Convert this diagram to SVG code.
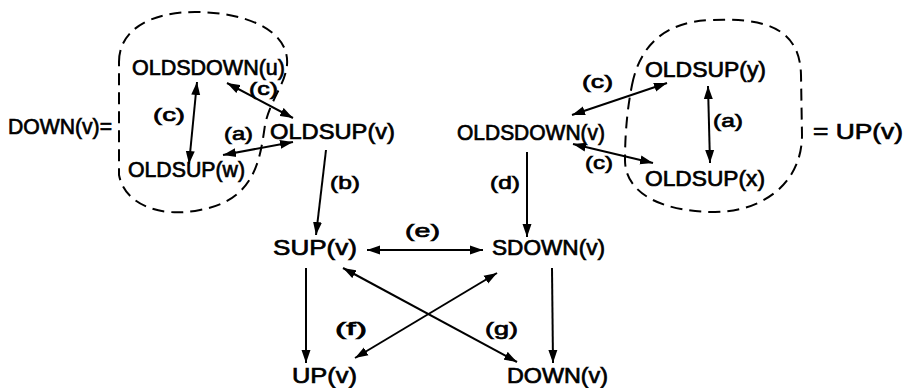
<svg xmlns="http://www.w3.org/2000/svg" width="907" height="388" viewBox="0 0 907 388">
<style>
text{font-family:"Liberation Sans",Arial,sans-serif;font-size:22px;fill:#000;stroke:#000;stroke-width:0.7}
text.l{font-size:19px}
.c{fill:none;stroke:#000;stroke-width:2;stroke-dasharray:12 7}
.e{fill:none;stroke:#000;stroke-width:2}
.b{marker-start:url(#ah);marker-end:url(#ah)}
.s{marker-end:url(#ah)}
</style>
<defs>
<marker id="ah" markerUnits="userSpaceOnUse" markerWidth="14" markerHeight="10" refX="13" refY="5" orient="auto-start-reverse">
<path d="M0,0.5 L13,5 L0,9.5 Z" fill="#000"/>
</marker>
</defs>
<rect width="907" height="388" fill="#fff"/>
<g id="clouds">
<path class="c" d="M 119 62 C 119 30, 150 12, 195 12 C 245 12, 290 30, 287 65 C 285 85, 270 100, 265 125 C 260 160, 255 200, 200 210 C 160 218, 125 205, 119 175 Z"/>
<path class="c" d="M 632 85 C 640 45, 665 22, 710 20 C 760 18, 800 25, 801 75 L 802 135 C 802 185, 760 212, 715 212 C 665 212, 625 195, 625 160 C 625 130, 628 105, 632 85 Z"/>
</g>
<g id="connectors">
<line class="e b" x1="197" y1="82" x2="189" y2="164"/>
<line class="e b" x1="227" y1="83" x2="293" y2="118"/>
<line class="e b" x1="223" y1="155" x2="293" y2="142"/>
<line class="e s" x1="326" y1="150" x2="316" y2="235"/>
<line class="e s" x1="527" y1="152" x2="527" y2="237"/>
<line class="e b" x1="572" y1="115" x2="667" y2="83"/>
<line class="e b" x1="573" y1="144" x2="653" y2="163"/>
<line class="e b" x1="708" y1="86" x2="710" y2="163"/>
<line class="e b" x1="367" y1="250" x2="483" y2="250"/>
<line class="e s" x1="306" y1="268" x2="306" y2="363"/>
<line class="e s" x1="552" y1="268" x2="553" y2="363"/>
<line class="e b" x1="343" y1="268" x2="517" y2="362"/>
<line class="e b" x1="497" y1="273" x2="355" y2="358"/>
</g>
<g id="labels">
<text class="l" x="224" y="140" textLength="29" lengthAdjust="spacingAndGlyphs">(a)</text>
<text class="l" x="153" y="121" textLength="32" lengthAdjust="spacingAndGlyphs">(c)</text>
<text class="l" x="249" y="95" textLength="29" lengthAdjust="spacingAndGlyphs">(c)</text>
<text class="l" x="330" y="189" textLength="30" lengthAdjust="spacingAndGlyphs">(b)</text>
<text class="l" x="490" y="189" textLength="30" lengthAdjust="spacingAndGlyphs">(d)</text>
<text class="l" x="582" y="88" textLength="31" lengthAdjust="spacingAndGlyphs">(c)</text>
<text class="l" x="585" y="169" textLength="28" lengthAdjust="spacingAndGlyphs">(c)</text>
<text class="l" x="713" y="127" textLength="30" lengthAdjust="spacingAndGlyphs">(a)</text>
<text class="l" x="405" y="237" textLength="35" lengthAdjust="spacingAndGlyphs">(e)</text>
<text class="l" x="335" y="335" textLength="32" lengthAdjust="spacingAndGlyphs">(f)</text>
<text class="l" x="485" y="335" textLength="33" lengthAdjust="spacingAndGlyphs">(g)</text>
<text x="8" y="134" textLength="104" lengthAdjust="spacingAndGlyphs">DOWN(v)=</text>
<text x="813" y="139" textLength="90" lengthAdjust="spacingAndGlyphs">= UP(v)</text>
</g>
<g id="n-oldsdown-u"><text x="132" y="75" textLength="153" lengthAdjust="spacingAndGlyphs">OLDSDOWN(u)</text></g>
<g id="n-oldsup-w"><text x="128" y="177" textLength="117" lengthAdjust="spacingAndGlyphs">OLDSUP(w)</text></g>
<g id="n-oldsup-v"><text x="270" y="139" textLength="125" lengthAdjust="spacingAndGlyphs">OLDSUP(v)</text></g>
<g id="n-oldsdown-v"><text x="457" y="140" textLength="148" lengthAdjust="spacingAndGlyphs">OLDSDOWN(v)</text></g>
<g id="n-oldsup-y"><text x="645" y="77" textLength="121" lengthAdjust="spacingAndGlyphs">OLDSUP(y)</text></g>
<g id="n-oldsup-x"><text x="645" y="186" textLength="120" lengthAdjust="spacingAndGlyphs">OLDSUP(x)</text></g>
<g id="n-sup-v"><text x="273" y="255" textLength="84" lengthAdjust="spacingAndGlyphs">SUP(v)</text></g>
<g id="n-sdown-v"><text x="492" y="255" textLength="113" lengthAdjust="spacingAndGlyphs">SDOWN(v)</text></g>
<g id="n-up-v"><text x="292" y="383" textLength="65" lengthAdjust="spacingAndGlyphs">UP(v)</text></g>
<g id="n-down-v"><text x="507" y="383" textLength="101" lengthAdjust="spacingAndGlyphs">DOWN(v)</text></g>
</svg>
